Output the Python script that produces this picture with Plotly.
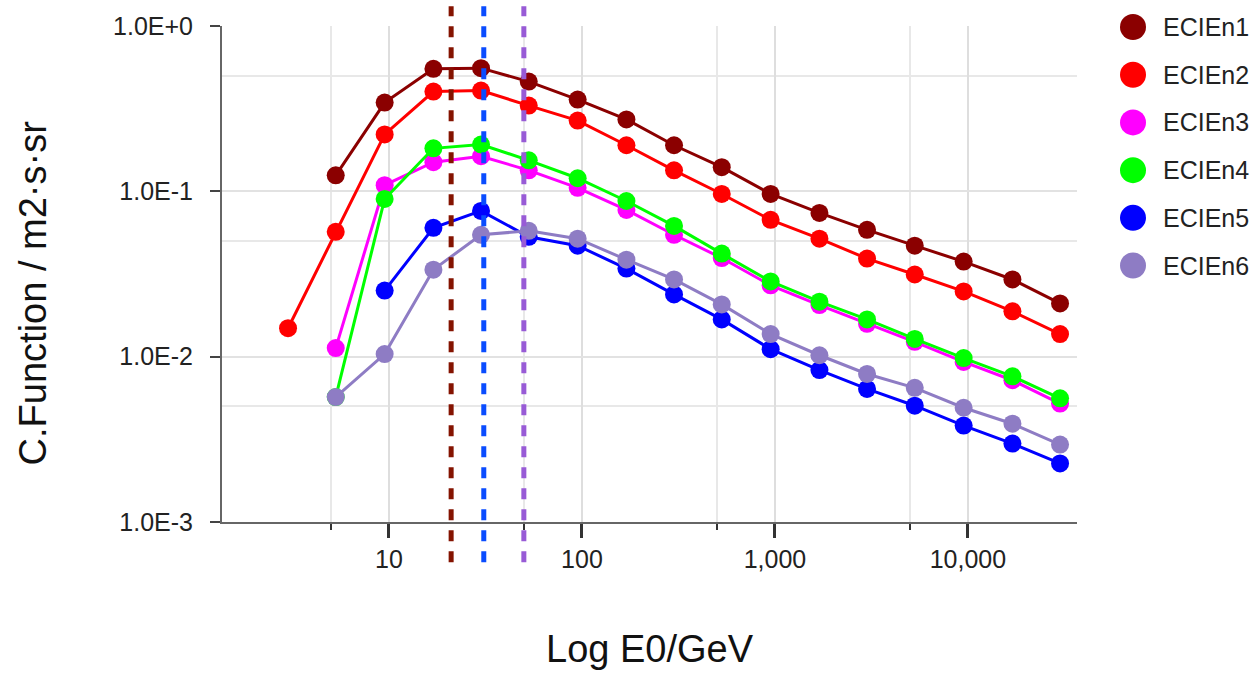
import plotly.graph_objects as go

# ---------------- data ----------------
energies = [3, 5.3, 9.5, 17, 30, 53, 95, 170, 300, 530, 950, 1700, 3000, 5300, 9500, 17000, 30000]

ecien1 = [None, 0.125, 0.344, 0.551, 0.556, 0.461, 0.359, 0.272, 0.190, 0.140, 0.0964, 0.074,
          0.0585, 0.0469, 0.0376, 0.0293, 0.0210]
ecien2 = [0.01486, 0.0569, 0.221, 0.401, 0.407, 0.330, 0.268, 0.190, 0.134, 0.0964, 0.0672, 0.0517,
          0.0392, 0.0314, 0.0248, 0.0188, 0.0137]
ecien3 = [None, 0.01127, 0.109, 0.150, 0.163, 0.134, 0.105, 0.0772, 0.0546, 0.0395, 0.0270, 0.0205,
          0.0158, 0.0123, 0.0093, 0.0072, 0.0052]
ecien4 = [None, 0.0057, 0.0899, 0.182, 0.192, 0.154, 0.120, 0.0874, 0.0618, 0.042, 0.0285, 0.0215,
          0.0168, 0.0128, 0.0098, 0.0076, 0.0056]
ecien5 = [None, None, 0.0251, 0.0602, 0.0761, 0.0531, 0.0469, 0.0341, 0.0238, 0.0168, 0.0111, 0.0083,
          0.00638, 0.00505, 0.00383, 0.00298, 0.00226]
ecien6 = [None, 0.0057, 0.01037, 0.0336, 0.0546, 0.0577, 0.0517, 0.0386, 0.0293, 0.0207, 0.0137, 0.0102,
          0.00786, 0.00648, 0.00491, 0.00393, 0.00294]

series_names = ["ECIEn1", "ECIEn2", "ECIEn3", "ECIEn4", "ECIEn5", "ECIEn6"]
series_values = [ecien1, ecien2, ecien3, ecien4, ecien5, ecien6]
series_colors = ["#8B0000", "#FF0000", "#FF00FF", "#00FF00", "#0000FF", "#8E7CC4"]

cut_energies = [21, 31, 50]
cut_colors = ["#841300", "#0A4CFF", "#985BD6"]

x_tickvals = [10, 100, 1000, 10000]
x_ticktext = ["10", "100", "1,000", "10,000"]
x_minorvals = [5, 50, 500, 5000]
y_tickvals = [0.001, 0.01, 0.1, 1]
y_ticktext = ["1.0E-3", "1.0E-2", "1.0E-1", "1.0E+0"]
y_minorvals = [0.005, 0.05, 0.5]

x_title = "Log E0/GeV"
y_title = "C.Function / m2·s·sr"

# ---------------- figure ----------------
FONT = "Liberation Sans, Arial, Helvetica, sans-serif"
W, H = 1258, 675
L, R, T, B = 222, 181, 23, 153
PW, PH = W - L - R, H - T - B
X_RANGE = [0.135, 4.565]
Y_RANGE = [-3, 0]

fig = go.Figure()
for name, vals, color in zip(series_names, series_values, series_colors):
    fig.add_trace(go.Scatter(
        x=energies, y=vals, name=name, mode="lines+markers",
        line=dict(color=color, width=3),
        marker=dict(color=color, size=18),
        showlegend=False,
    ))

for e, c in zip(cut_energies, cut_colors):
    fig.add_shape(type="line", xref="x", yref="paper", x0=e, x1=e,
                  y0=-0.081, y1=1.04, layer="above",
                  line=dict(color=c, width=5, dash="11px,10px"))

# custom legend (large round markers, text only)
for i, (name, color) in enumerate(zip(series_names, series_colors)):
    ypx = 24 + 48 * i
    yp = (H - B - ypx) / PH
    fig.add_shape(type="circle", xref="paper", yref="paper",
                  xsizemode="pixel", ysizemode="pixel",
                  xanchor=(1133 - L) / PW, yanchor=yp,
                  x0=-13, x1=13, y0=-13, y1=13,
                  fillcolor=color, line=dict(width=0))
    fig.add_annotation(xref="paper", yref="paper", x=(1161 - L) / PW, y=yp,
                       xanchor="left", yanchor="middle", showarrow=False,
                       text=name, font=dict(family=FONT, size=25, color="#222"))

# axis titles
fig.add_annotation(xref="paper", yref="paper", x=(650 - L) / PW, y=(H - B - 650) / PH,
                   xanchor="center", yanchor="middle", showarrow=False,
                   text=x_title, font=dict(family=FONT, size=38, color="#111"))
fig.add_annotation(xref="paper", yref="paper", x=(33 - L) / PW, y=(H - B - 292) / PH,
                   xanchor="center", yanchor="middle", showarrow=False, textangle=-90,
                   text=y_title, font=dict(family=FONT, size=38, color="#111"))

axis_common = dict(type="log", zeroline=False, mirror=False)

fig.update_layout(
    width=W, height=H,
    margin=dict(l=L, r=R, t=T, b=B),
    paper_bgcolor="white", plot_bgcolor="white",
    font=dict(family=FONT, size=25, color="#222"),
    showlegend=False,
    xaxis=dict(
        **axis_common, range=X_RANGE,
        tickmode="array", tickvals=x_tickvals, ticktext=x_ticktext,
        ticks="outside", ticklen=14, tickwidth=3, tickcolor="#333",
        showline=True, linecolor="#666", linewidth=2,
        showgrid=True, gridcolor="#dedede", gridwidth=2,
        tickfont=dict(family=FONT, size=25, color="#222"),
        minor=dict(tickmode="array", tickvals=x_minorvals, ticks="outside",
                   ticklen=6, tickwidth=2, tickcolor="#333",
                   showgrid=True, gridcolor="#e8e8e8", gridwidth=2),
    ),
    yaxis=dict(
        **axis_common, range=Y_RANGE,
        tickmode="array", tickvals=y_tickvals, ticktext=y_ticktext,
        ticks="outside", ticklen=10, tickwidth=2, tickcolor="#444",
        ticklabelstandoff=12,
        showline=True, linecolor="#666", linewidth=2,
        showgrid=True, gridcolor="#e2e2e2", gridwidth=2,
        tickfont=dict(family=FONT, size=25, color="#222"),
        minor=dict(tickmode="array", tickvals=y_minorvals, ticks="",
                   showgrid=True, gridcolor="#e8e8e8", gridwidth=2),
    ),
    # overlay axes to draw the inner halves of the crossing tick marks
    xaxis2=dict(
        **axis_common, range=X_RANGE, overlaying="x", anchor="y", side="bottom",
        tickmode="array", tickvals=x_tickvals, ticks="inside", ticklen=12,
        tickwidth=3, tickcolor="#333", showticklabels=False,
        showline=False, showgrid=False,
        minor=dict(tickmode="array", tickvals=x_minorvals, ticks="inside",
                   ticklen=7, tickwidth=2, tickcolor="#333", showgrid=False),
    ),
    yaxis2=dict(
        **axis_common, range=Y_RANGE, overlaying="y", anchor="x", side="left",
        tickmode="array", tickvals=y_tickvals, ticks="inside", ticklen=15,
        tickwidth=2, tickcolor="#444", showticklabels=False,
        showline=False, showgrid=False,
    ),
)

fig.write_html("out.html")
